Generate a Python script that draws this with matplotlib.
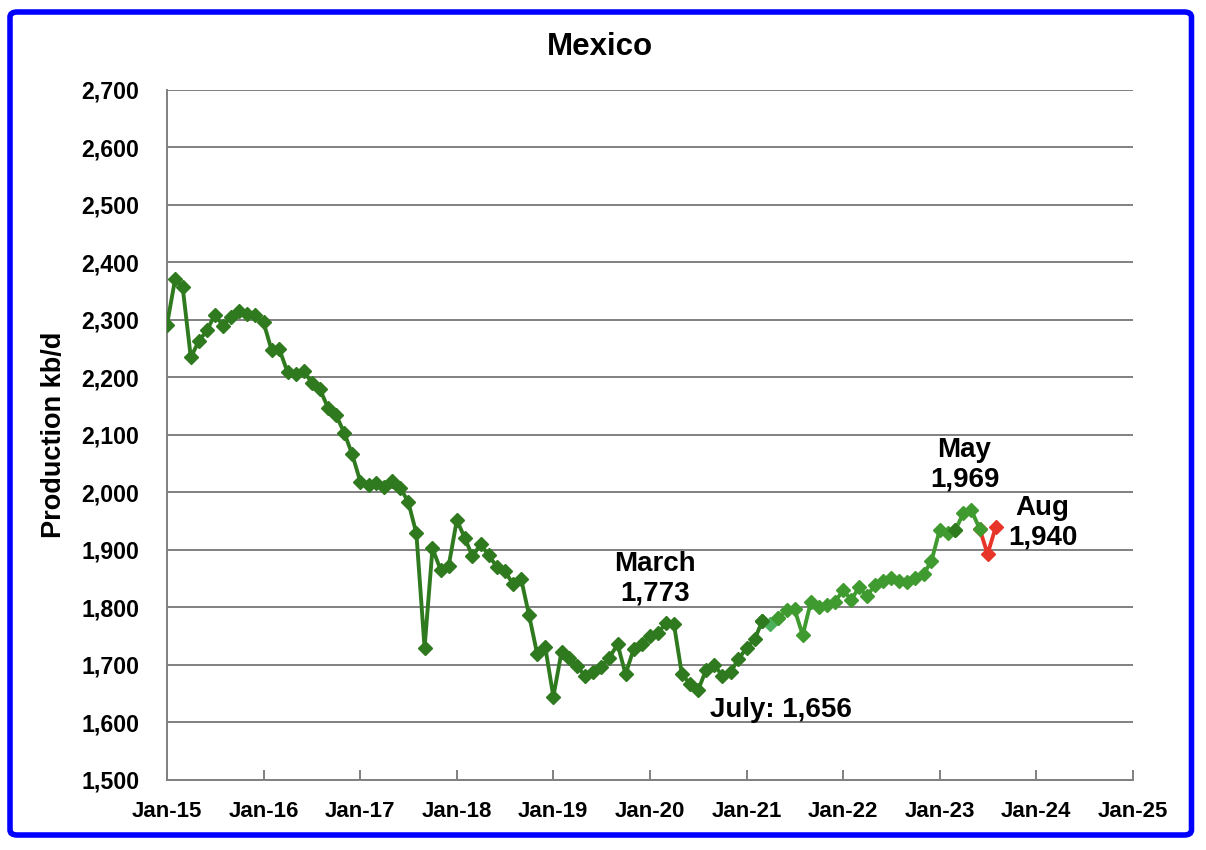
import matplotlib
matplotlib.use("Agg")
import matplotlib.pyplot as plt
import matplotlib.dates as mdates
from matplotlib.patches import FancyBboxPatch
import pandas as pd
import numpy as np

plt.rcParams['font.family'] = ['Liberation Sans', 'DejaVu Sans']
plt.rcParams['font.weight'] = 'bold'

########### Data (kb/d, monthly) ###############
months = pd.date_range('2015-01-01', '2023-06-01', freq='MS')
production = [
    2292, 2372, 2358, 2235, 2263, 2282, 2309, 2290, 2306, 2315, 2310, 2309,  # 2015
    2296, 2247, 2249, 2209, 2206, 2212, 2191, 2180, 2147, 2135, 2104, 2067,  # 2016
    2019, 2013, 2016, 2010, 2020, 2008, 1984, 1929, 1730, 1903, 1865, 1872,  # 2017
    1952, 1920, 1889, 1910, 1891, 1871, 1864, 1841, 1850, 1787, 1719, 1732,  # 2018
    1645, 1723, 1713, 1699, 1680, 1688, 1697, 1713, 1736, 1684, 1728, 1736,  # 2019
    1750, 1755, 1773, 1771, 1684, 1667, 1656, 1692, 1700, 1681, 1688, 1710,  # 2020
    1730, 1745, 1777, 1772, 1781, 1796, 1797, 1752, 1810, 1801, 1804, 1810,  # 2021
    1830, 1813, 1835, 1820, 1839, 1846, 1852, 1846, 1845, 1852, 1858, 1881,  # 2022
    1935, 1929, 1935, 1964, 1969, 1937,                                      # 2023
]
recent_months = pd.date_range('2023-06-01', '2023-08-01', freq='MS')
recent_production = [1937, 1893, 1940]

s = pd.Series(production, index=months)

dark = '#2f7a1f'
light = '#4caf5c'
mid = '#3f9a2f'
red = '#e8352a'

fig = plt.figure(figsize=(12.06, 8.5), dpi=100)
ax = fig.add_axes([167/1206, 1-780/850, (1133-167)/1206, (780-90)/850])

mk = dict(marker='D', markersize=7.2, linewidth=2.8)
ax.plot(recent_months, recent_production, color=red, zorder=3, **mk)
ax.plot(s[:'2021-03-01'].index, s[:'2021-03-01'].values, color=dark, zorder=4, **mk)
ax.plot(s['2021-03-01':'2021-05-01'].index, s['2021-03-01':'2021-05-01'].values, color=light, zorder=4, **mk)
ax.plot(s['2021-05-01':].index, s['2021-05-01':].values, color=mid, zorder=4, **mk)
ax.plot(s['2021-03-01':'2021-03-01'].index, s['2021-03-01':'2021-03-01'].values, color=dark, zorder=5, **mk)
ax.plot(s['2023-03-01':'2023-03-01'].index, s['2023-03-01':'2023-03-01'].values, color=dark, zorder=5, **mk)

############ Axes ###################
ax.set_ylim(1500, 2700)
ax.set_yticks(np.arange(1500, 2701, 100))
ax.yaxis.set_major_formatter(matplotlib.ticker.FuncFormatter(lambda v, p: f'{int(v):,}'))
ax.set_xlim(pd.Timestamp('2015-01-01'), pd.Timestamp('2025-01-01'))
ax.set_xticks(pd.date_range('2015-01-01', '2025-01-01', freq='YS'))
ax.xaxis.set_major_formatter(mdates.DateFormatter('%b-%y'))
ax.grid(axis='y', color='#808080', linewidth=1.4)
ax.set_axisbelow(True)
for sp in ['top', 'right']:
    ax.spines[sp].set_visible(False)
for sp in ['left', 'bottom']:
    ax.spines[sp].set_color('#808080')
    ax.spines[sp].set_linewidth(1.4)
ax.tick_params(axis='x', direction='in', length=7, width=1.4, color='#808080', labelsize=16, pad=15)
ax.tick_params(axis='y', length=0, labelsize=16.7, pad=20)

############ Text ###################
fig.text(600/1206, 1-47/850, 'Mexico', ha='center', va='center', fontsize=22.5, fontweight='bold')
fig.text(54/1206, 1-435/850, 'Production kb/d', ha='center', va='center', rotation=90,
         fontsize=19.5, fontweight='bold')

ann = dict(ha='center', va='center', fontsize=20, fontweight='bold', linespacing=1.2)
ax.text(pd.Timestamp('2020-01-20'), 1850, 'March\n1,773', **ann)
ax.text(pd.Timestamp('2021-05-10'), 1622, 'July: 1,656', **ann)
ax.text(pd.Timestamp('2023-04-05'), 2048, 'May\n1,969', **ann)
ax.text(pd.Timestamp('2024-01-25'), 1947, 'Aug\n1,940', **ann)

############ Blue frame ###################
frame = FancyBboxPatch((10/1206, 1-835/850), (1191.5-10)/1206, (835-12)/850,
                       boxstyle='round,pad=0,rounding_size=0.006', transform=fig.transFigure,
                       facecolor='none', edgecolor='#0000ff', linewidth=4)
fig.patches.append(frame)

fig.savefig('out.png', dpi=100)
